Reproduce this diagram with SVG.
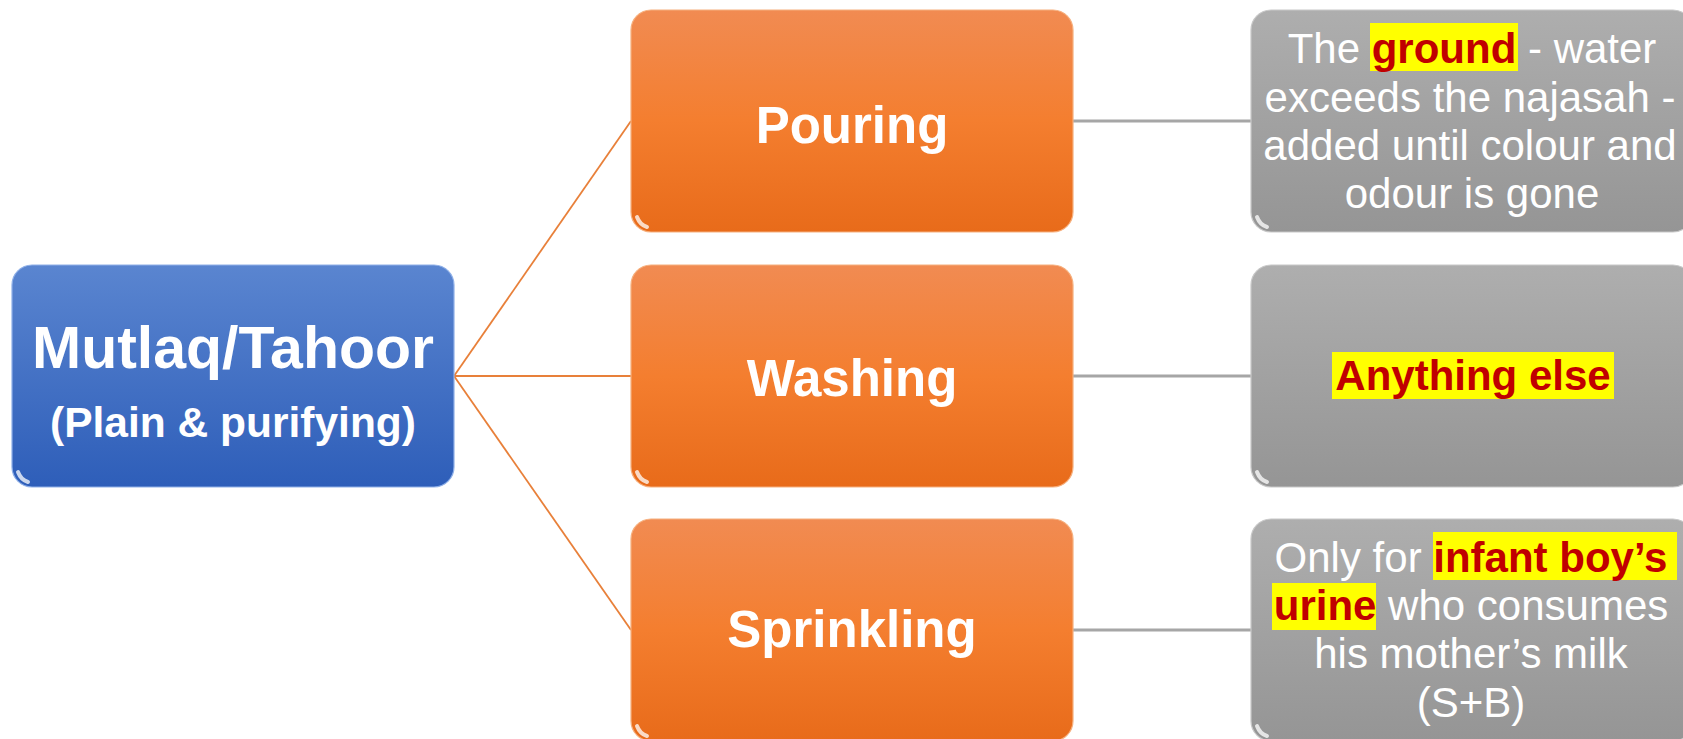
<svg xmlns="http://www.w3.org/2000/svg" width="1683" height="739" viewBox="0 0 1683 739">
<defs>
<linearGradient id="gBlue" x1="0" y1="0" x2="0" y2="1"><stop offset="0" stop-color="#5A85D0"/><stop offset="1" stop-color="#2E5EB9"/></linearGradient>
<linearGradient id="gOrange" x1="0" y1="0" x2="0" y2="1"><stop offset="0" stop-color="#F18B52"/><stop offset="0.5" stop-color="#F47E2F"/><stop offset="1" stop-color="#E86B1A"/></linearGradient>
<linearGradient id="gGray" x1="0" y1="0" x2="0" y2="1"><stop offset="0" stop-color="#AEAEAE"/><stop offset="1" stop-color="#959595"/></linearGradient>
<linearGradient id="gShine" x1="0" y1="0" x2="0" y2="1"><stop offset="0" stop-color="#FFFFFF" stop-opacity="0.55"/><stop offset="1" stop-color="#FFFFFF" stop-opacity="0"/></linearGradient>
</defs>
<style>
.box{stroke-width:1.2}
.blue{fill:url(#gBlue);stroke:#8FB0E8}
.orange{fill:url(#gOrange);stroke:#F6B07E}
.gray{fill:url(#gGray);stroke:#C8C8C8}
.shine{fill:none;stroke:url(#gShine);stroke-width:3}
.corner{fill:none;stroke:#FFFFFF;stroke-opacity:0.75;stroke-width:4;stroke-linecap:round}
.title{font-family:"Liberation Sans",Arial,sans-serif;font-weight:bold;fill:#FFFFFF;text-anchor:middle}
.body{font-family:"Liberation Sans",Arial,sans-serif;font-size:42px;fill:#FFFFFF;text-anchor:middle}
.hl{font-weight:bold;fill:#C00000}
.mark{fill:#FFFF00}
.c-or{stroke:#E8803A;stroke-width:1.8;fill:none}
.c-gr{stroke:#A6A6A6;stroke-width:3;fill:none}
</style>
<g id="connectors">
<line class="c-or" x1="454" y1="376" x2="631" y2="121"/>
<line class="c-or" x1="454" y1="376" x2="631" y2="376"/>
<line class="c-or" x1="454" y1="376" x2="631" y2="630"/>
<line class="c-gr" x1="1073" y1="121" x2="1251" y2="121"/>
<line class="c-gr" x1="1073" y1="376" x2="1251" y2="376"/>
<line class="c-gr" x1="1073" y1="630" x2="1251" y2="630"/>
</g>
<g id="root">
<rect class="box blue" x="12" y="265" width="442" height="222" rx="20"/>
<path class="shine" d="M32 269 H434"/>
<path class="corner" d="M18 472 Q21 480 28 482"/>
<text class="title" x="233" y="368" font-size="59">Mutlaq/Tahoor</text>
<text class="title" x="233" y="437" font-size="42.5">(Plain &amp; purifying)</text>
</g>
<g id="pouring">
<rect class="box orange" x="631" y="10" width="442" height="222" rx="20"/>
<path class="shine" d="M651 14 H1053"/>
<path class="corner" d="M637 217 Q640 225 647 227"/>
<text class="title" x="852" y="143" font-size="51">Pouring</text>
</g>
<g id="washing">
<rect class="box orange" x="631" y="265" width="442" height="222" rx="20"/>
<path class="shine" d="M651 269 H1053"/>
<path class="corner" d="M637 472 Q640 480 647 482"/>
<text class="title" x="852" y="396" font-size="51">Washing</text>
</g>
<g id="sprinkling">
<rect class="box orange" x="631" y="519" width="442" height="222" rx="20"/>
<path class="shine" d="M651 523 H1053"/>
<path class="corner" d="M637 726 Q640 734 647 736"/>
<text class="title" x="852" y="647" font-size="51">Sprinkling</text>
</g>
<g id="ground">
<rect class="box gray" x="1251" y="10" width="442" height="222" rx="20"/>
<path class="shine" d="M1271 14 H1673"/>
<path class="corner" d="M1257 217 Q1260 225 1267 227"/>
<rect class="mark" x="1370" y="23" width="148" height="48"/>
<text class="body" x="1472" y="63">The <tspan class="hl">ground</tspan> - water</text>
<text class="body" x="1470" y="112">exceeds the najasah -</text>
<text class="body" x="1470" y="160">added until colour and</text>
<text class="body" x="1472" y="208">odour is gone</text>
</g>
<g id="anything">
<rect class="box gray" x="1251" y="265" width="442" height="222" rx="20"/>
<path class="shine" d="M1271 269 H1673"/>
<path class="corner" d="M1257 472 Q1260 480 1267 482"/>
<rect class="mark" x="1332" y="352" width="282" height="47"/>
<text class="body hl" x="1473" y="390">Anything else</text>
</g>
<g id="infant">
<rect class="box gray" x="1251" y="519" width="442" height="222" rx="20"/>
<path class="shine" d="M1271 523 H1673"/>
<path class="corner" d="M1257 726 Q1260 734 1267 736"/>
<rect class="mark" x="1433" y="532" width="244" height="48"/>
<rect class="mark" x="1272" y="583" width="104" height="47"/>
<text class="body" x="1471" y="572">Only for <tspan class="hl">infant boy’s</tspan></text>
<text class="body" x="1471" y="620"><tspan class="hl">urine</tspan> who consumes</text>
<text class="body" x="1471" y="668">his mother’s milk</text>
<text class="body" x="1471" y="717">(S+B)</text>
</g>
</svg>
